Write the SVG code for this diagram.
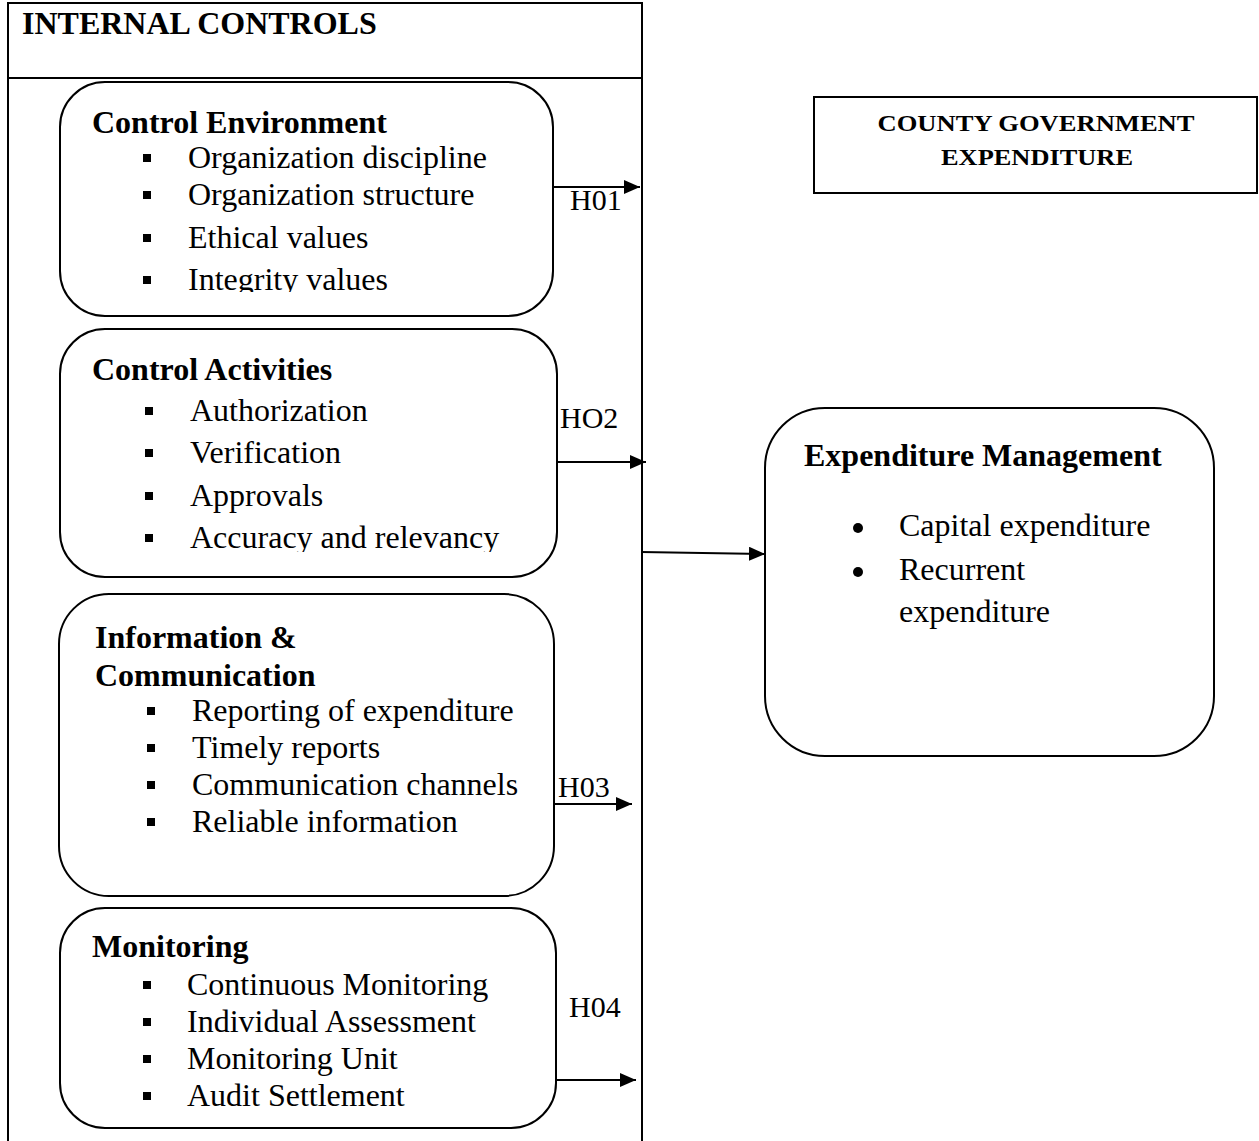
<svg xmlns="http://www.w3.org/2000/svg" width="1259" height="1141" viewBox="0 0 1259 1141">
<style>
text{font-family:"Liberation Serif","Times New Roman",serif;fill:#000}
.t{font-size:32px}
.h{font-size:30px}
.b{font-weight:bold;font-size:32px}
.box{fill:#fff;stroke:#000;stroke-width:2}
.ln{stroke:#000;stroke-width:2;fill:none}
.sq{fill:#000}
</style>
<defs>
<marker id="ah" viewBox="0 0 10 10" refX="10" refY="5" markerWidth="8" markerHeight="7" markerUnits="strokeWidth" orient="auto" preserveAspectRatio="none">
<path d="M0,0 L10,5 L0,10 z" fill="#000"/>
</marker>
<clipPath id="c1"><rect x="60" y="82" width="493" height="210"/></clipPath>
<clipPath id="c2"><rect x="60" y="329" width="497" height="223"/></clipPath>
</defs>
<g id="internal-controls">
<rect x="8" y="3" width="634" height="1150" class="box"/>
<line x1="8" y1="78" x2="642" y2="78" class="ln"/>
<text x="22" y="34" class="b">INTERNAL CONTROLS</text>
</g>
<g id="control-environment">
<rect x="60" y="82" width="493" height="234" rx="45" class="box"/>
<text x="92" y="133" class="b">Control Environment</text>
<rect x="143" y="154" width="8" height="8" class="sq"/>
<text x="188" y="168" class="t">Organization discipline</text>
<rect x="143" y="191" width="8" height="8" class="sq"/>
<text x="188" y="205" class="t">Organization structure</text>
<rect x="143" y="234" width="8" height="8" class="sq"/>
<text x="188" y="248" class="t">Ethical values</text>
<rect x="143" y="276" width="8" height="8" class="sq"/>
<text x="188" y="290" class="t" clip-path="url(#c1)">Integrity values</text>
</g>
<g id="control-activities">
<rect x="60" y="329" width="497" height="248" rx="45" class="box"/>
<text x="92" y="380" class="b">Control Activities</text>
<rect x="145" y="407" width="8" height="8" class="sq"/>
<text x="190" y="421" class="t">Authorization</text>
<rect x="145" y="449" width="8" height="8" class="sq"/>
<text x="190" y="463" class="t">Verification</text>
<rect x="145" y="492" width="8" height="8" class="sq"/>
<text x="190" y="506" class="t">Approvals</text>
<rect x="145" y="534" width="8" height="8" class="sq"/>
<text x="190" y="548" class="t" clip-path="url(#c2)">Accuracy and relevancy</text>
</g>
<g id="information-communication">
<rect x="59" y="594" width="495" height="302" rx="50" class="box"/>
<text x="95" y="648" class="b">Information &amp;</text>
<text x="95" y="686" class="b">Communication</text>
<rect x="147" y="707" width="8" height="8" class="sq"/>
<text x="192" y="721" class="t">Reporting of expenditure</text>
<rect x="147" y="744" width="8" height="8" class="sq"/>
<text x="192" y="758" class="t">Timely reports</text>
<rect x="147" y="781" width="8" height="8" class="sq"/>
<text x="192" y="795" class="t">Communication channels</text>
<rect x="147" y="818" width="8" height="8" class="sq"/>
<text x="192" y="832" class="t">Reliable information</text>
</g>
<g id="monitoring">
<rect x="60" y="908" width="496" height="220" rx="45" class="box"/>
<text x="92" y="957" class="b">Monitoring</text>
<rect x="143" y="981" width="8" height="8" class="sq"/>
<text x="187" y="995" class="t">Continuous Monitoring</text>
<rect x="143" y="1018" width="8" height="8" class="sq"/>
<text x="187" y="1032" class="t">Individual Assessment</text>
<rect x="143" y="1055" width="8" height="8" class="sq"/>
<text x="187" y="1069" class="t">Monitoring Unit</text>
<rect x="143" y="1092" width="8" height="8" class="sq"/>
<text x="187" y="1106" class="t">Audit Settlement</text>
</g>
<g id="county-government-expenditure">
<rect x="814" y="97" width="443" height="96" fill="#fff" stroke="#000" stroke-width="2"/>
<text x="1036" y="131" text-anchor="middle" font-weight="bold" font-size="24" textLength="317" lengthAdjust="spacingAndGlyphs">COUNTY GOVERNMENT</text>
<text x="1037" y="165" text-anchor="middle" font-weight="bold" font-size="24" textLength="192" lengthAdjust="spacingAndGlyphs">EXPENDITURE</text>
</g>
<g id="expenditure-management">
<rect x="765" y="408" width="449" height="348" rx="60" class="box"/>
<text x="804" y="466" class="b">Expenditure Management</text>
<circle cx="858" cy="528" r="5"/>
<text x="899" y="536" class="t">Capital expenditure</text>
<circle cx="858" cy="572" r="5"/>
<text x="899" y="580" class="t">Recurrent</text>
<text x="899" y="622" class="t">expenditure</text>
</g>
<g id="connectors">
<line x1="553" y1="187" x2="640" y2="187" class="ln" marker-end="url(#ah)"/>
<text x="570" y="210" class="h">H01</text>
<line x1="557" y1="462" x2="646" y2="462" class="ln" marker-end="url(#ah)"/>
<text x="560" y="428" class="h">HO2</text>
<line x1="641" y1="552" x2="765" y2="554" class="ln" marker-end="url(#ah)"/>
<line x1="553" y1="804" x2="632" y2="804" class="ln" marker-end="url(#ah)"/>
<text x="558" y="797" class="h">H03</text>
<line x1="557" y1="1080" x2="636" y2="1080" class="ln" marker-end="url(#ah)"/>
<text x="569" y="1017" class="h">H04</text>
</g>
</svg>
